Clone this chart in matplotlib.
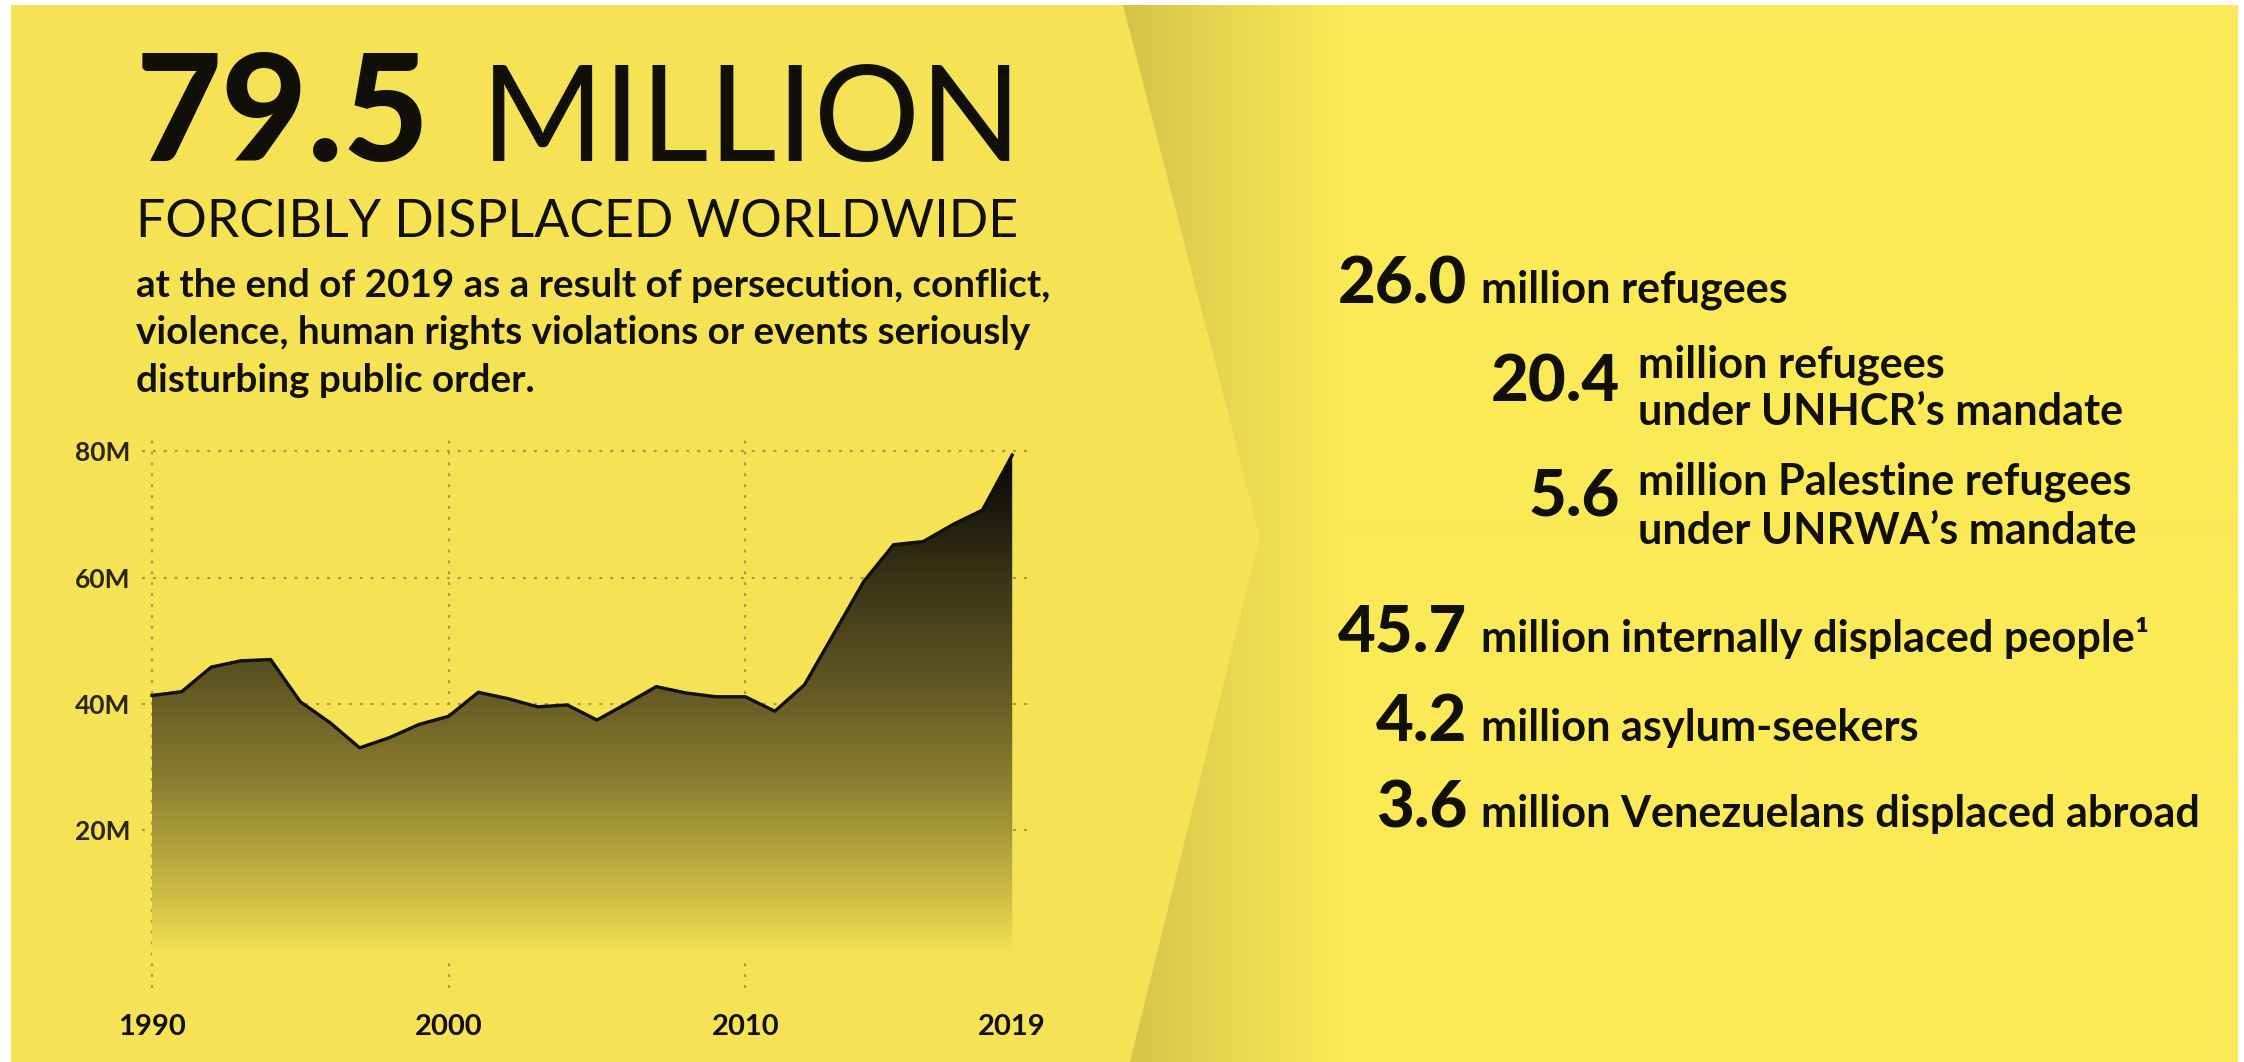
import numpy as np
import matplotlib
matplotlib.use("Agg")
import matplotlib.pyplot as plt
from matplotlib.colors import LinearSegmentedColormap

# ---------------- data ----------------
years = [1990, 1991, 1992, 1993, 1994, 1995, 1996, 1997, 1998, 1999,
         2000, 2001, 2002, 2003, 2004, 2005, 2006, 2007, 2008, 2009,
         2010, 2011, 2012, 2013, 2014, 2015, 2016, 2017, 2018, 2019]
displaced_m = [41.3, 41.9, 45.8, 46.8, 47.0, 40.3, 37.0, 33.0, 34.6, 36.7,
               38.0, 41.8, 40.8, 39.5, 39.8, 37.4, 40.0, 42.7, 41.7, 41.1,
               41.1, 38.8, 43.0, 51.2, 59.4, 65.2, 65.7, 68.4, 70.7, 79.4]
y_ticks = [20, 40, 60, 80]
y_tick_labels = ["20M", "40M", "60M", "80M"]
x_ticks = [1990, 2000, 2010, 2019]
x_tick_labels = ["1990", "2000", "2010", "2019"]
grid_years = [1990, 2000, 2010]

headline_num = "79.5"
headline_word = "MILLION"
subtitle = "FORCIBLY DISPLACED WORLDWIDE"
paragraph = ["at the end of 2019 as a result of persecution, conflict,",
             "violence, human rights violations or events seriously",
             "disturbing public order."]

main_nums = ["26.0", "45.7", "4.2", "3.6"]
main_texts = ["million refugees", "million internally displaced people\u00b9",
              "million asylum-seekers", "million Venezuelans displaced abroad"]
sub_nums = ["20.4", "5.6"]
sub_texts = [["million refugees", "under UNHCR\u2019s mandate"],
             ["million Palestine refugees", "under UNRWA\u2019s mandate"]]

# ---------------- figure ----------------
W, H = 2244, 1062
DPI = 100
FONT = ["Lato", "DejaVu Sans"]
INK = "#111008"

fig = plt.figure(figsize=(W / DPI, H / DPI), dpi=DPI, facecolor="white")

# background
bg = fig.add_axes([0, 0, 1, 1], zorder=-10)
bg.set_xlim(0, W)
bg.set_ylim(H, 0)
bg.axis("off")

dark = np.array([208, 192, 72]) / 255.0
bright = np.array([251, 234, 87]) / 255.0
xs = np.arange(11, 2238)
t = np.clip((xs - 1115) / 230.0, 0, 1) ** 0.85
row = dark[None, :] + (bright - dark)[None, :] * t[:, None]
bg.imshow(row[None, :, :], extent=[11, 2238, 1062, 5], aspect="auto",
          interpolation="bilinear", zorder=0)
bg.fill([11, 1123, 1260, 1130, 11], [5, 5, 537, 1062, 1062],
        color="#F5E355", lw=0, zorder=1)
bg.set_xlim(0, W)
bg.set_ylim(H, 0)

# ---------------- chart ----------------
x0, x1 = 141.6, 1030.0
ytop, ybot = 435.6, 987.5
ax = fig.add_axes([x0 / W, 1 - ybot / H, (x1 - x0) / W, (ybot - ytop) / H])
ax.patch.set_alpha(0)
for s in ax.spines.values():
    s.set_visible(False)

grid_kw = dict(color="#A99B45", lw=1.6, dashes=(1.3, 3.6), zorder=1)
for v in y_ticks:
    ax.axhline(v, **grid_kw)
for yv in grid_years:
    ax.axvline(yv, **grid_kw)

poly = ax.fill_between(years, displaced_m, 0, facecolor="none",
                       edgecolor="none", zorder=2)
stops = [(0, (245, 227, 85)), (2, (236, 220, 80)), (6, (220, 203, 74)),
         (12, (196, 180, 66)), (20, (165, 152, 56)), (28, (138, 125, 48)),
         (44, (94, 85, 34)), (50, (80, 72, 32)), (60, (58, 52, 23)),
         (70, (30, 28, 12)), (80, (10, 10, 5))]
cmap = LinearSegmentedColormap.from_list(
    "fade", [(v / 80.0, tuple(c / 255.0 for c in col)) for v, col in stops])
grad = np.linspace(0, 80, 400)[:, None]
im = ax.imshow(grad, extent=[years[0], years[-1], 0, 80], origin="lower",
               cmap=cmap, vmin=0, vmax=80, aspect="auto",
               interpolation="bilinear", zorder=2)
im.set_clip_path(poly.get_paths()[0], transform=ax.transData)
ax.plot(years, displaced_m, color=INK, lw=2.4, solid_joinstyle="round",
        zorder=3)

ax.set_xlim(1989.65, 2019.6)
ax.set_ylim(-5, 82.5)
ax.set_yticks(y_ticks)
ax.set_yticklabels(y_tick_labels)
ax.set_xticks(x_ticks)
ax.set_xticklabels(x_tick_labels)
ax.tick_params(length=0)
ax.tick_params(axis="y", pad=8)
ax.tick_params(axis="x", pad=19)
for lab in ax.get_yticklabels():
    lab.set_family(FONT)
    lab.set_fontweight("bold")
    lab.set_fontsize(19)
    lab.set_color("#2a2610")
for lab in ax.get_xticklabels():
    lab.set_family(FONT)
    lab.set_fontweight("bold")
    lab.set_fontsize(21)
    lab.set_color(INK)

# ---------------- text ----------------
renderer = fig.canvas.get_renderer()


def put(s, x, y, size, weight, ha="left", width=None):
    tx = fig.text(x / W, 1 - y / H, s, fontsize=size, fontweight=weight,
                  ha=ha, va="baseline", family=FONT, color=INK)
    if width is not None:
        w = tx.get_window_extent(renderer).width
        tx.set_fontsize(size * width / w)
    return tx


put(headline_num, 136, 161, 96, "black", width=294)
put(headline_word, 481, 161, 96, "normal", width=542)
put(subtitle, 136, 237, 36, "normal", width=883)

p0 = put(paragraph[0], 136, 297, 22, "bold", width=911)
psize = p0.get_fontsize()
put(paragraph[1], 136, 344, psize, "bold")
put(paragraph[2], 136, 392, psize, "bold")

# right column
n0 = put(main_nums[0], 1467, 303, 44, "black", ha="right", width=129)
nsize = n0.get_fontsize()
t3 = put(main_texts[3], 1481, 827, 26, "bold", width=719)
tsize = t3.get_fontsize()

main_base = [303, 652, 741, 827]
for i, (num, txt) in enumerate(zip(main_nums, main_texts)):
    if i > 0:
        put(num, 1467, main_base[i], nsize, "black", ha="right")
    if i != 3:
        put(txt, 1481, main_base[i], tsize, "bold")

sub_base = [402, 515]
sub_lines = [[378, 425], [495, 544]]
for num, lines, b, lb in zip(sub_nums, sub_texts, sub_base, sub_lines):
    put(num, 1620, b, nsize, "black", ha="right")
    put(lines[0], 1638, lb[0], tsize, "bold")
    put(lines[1], 1638, lb[1], tsize, "bold")

fig.savefig("out.png", dpi=DPI, facecolor="white")
